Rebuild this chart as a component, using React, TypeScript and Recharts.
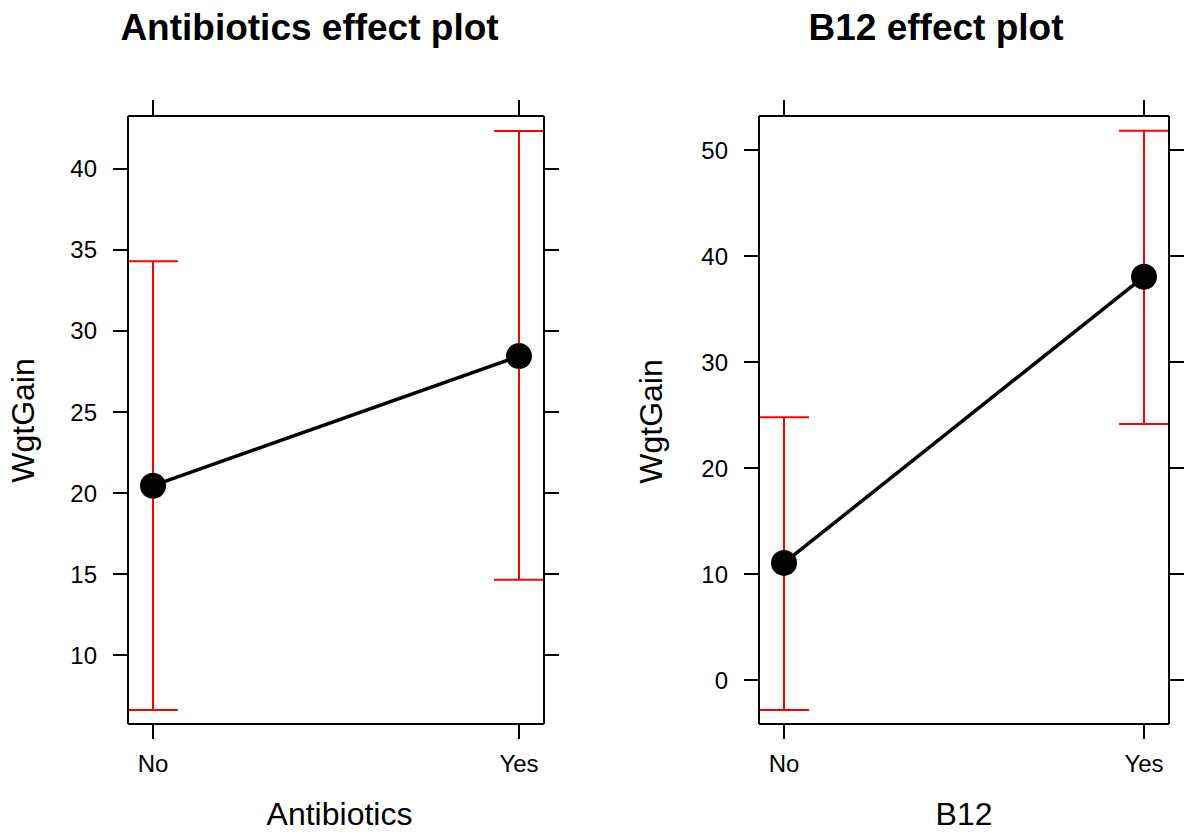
import React from 'react';
import { LineChart, Line, XAxis, YAxis, ErrorBar } from 'recharts';

const categories = ['No', 'Yes'];

const antibioticsFit = [20.45, 28.45];
const antibioticsLower = [6.6, 14.65];
const antibioticsUpper = [34.3, 42.35];

const b12Fit = [11.05, 38.05];
const b12Lower = [-2.83, 24.15];
const b12Upper = [24.8, 51.82];

const antibioticsTicks = [10, 15, 20, 25, 30, 35, 40];
const b12Ticks = [0, 10, 20, 30, 40, 50];

const FONT = '"Liberation Sans", Arial, Helvetica, sans-serif';

type PanelProps = {
  left: number;
  width: number;
  rightAxisWidth: number;
  fit: number[];
  lower: number[];
  upper: number[];
  domain: [number, number];
  ticks: number[];
};

function Panel({ left, width, rightAxisWidth, fit, lower, upper, domain, ticks }: PanelProps) {
  const data = categories.map((c, i) => ({
    name: c,
    fit: fit[i],
    err: [fit[i] - lower[i], upper[i] - fit[i]],
  }));
  const lineStyle = { stroke: '#000', strokeWidth: 2 };
  const tickStyle = { fill: '#000', fontSize: 24, fontFamily: FONT };
  const blank = () => '';
  return (
    <div style={{ position: 'absolute', left, top: 0 }}>
      <LineChart
        width={width}
        height={832}
        data={data}
        margin={{ top: 0, right: 0, bottom: 0, left: 0 }}
        style={{ fontFamily: FONT }}
      >
        <XAxis
          xAxisId="bottom"
          dataKey="name"
          orientation="bottom"
          height={108}
          padding={{ left: 25, right: 25 }}
          tickSize={15}
          tickMargin={16}
          axisLine={lineStyle}
          tickLine={lineStyle}
          tick={tickStyle}
          interval={0}
        />
        <XAxis
          xAxisId="top"
          dataKey="name"
          orientation="top"
          height={116}
          padding={{ left: 25, right: 25 }}
          tickSize={16}
          axisLine={lineStyle}
          tickLine={lineStyle}
          tick={tickStyle}
          tickFormatter={blank}
          interval={0}
        />
        <YAxis
          yAxisId="left"
          orientation="left"
          type="number"
          width={128}
          domain={domain}
          ticks={ticks}
          allowDataOverflow
          tickSize={15}
          tickMargin={16}
          axisLine={lineStyle}
          tickLine={lineStyle}
          tick={tickStyle}
          interval={0}
        />
        <YAxis
          yAxisId="right"
          orientation="right"
          type="number"
          width={rightAxisWidth}
          domain={domain}
          ticks={ticks}
          allowDataOverflow
          tickSize={15}
          axisLine={lineStyle}
          tickLine={lineStyle}
          tick={tickStyle}
          tickFormatter={blank}
          interval={0}
        />
        <Line
          xAxisId="top"
          yAxisId="right"
          dataKey="fit"
          stroke="none"
          dot={false}
          activeDot={false}
          isAnimationActive={false}
        >
          <ErrorBar dataKey="err" direction="y" width={25} stroke="#FF0000" strokeWidth={2} isAnimationActive={false} />
        </Line>
        <Line
          xAxisId="bottom"
          yAxisId="left"
          dataKey="fit"
          stroke="#000"
          strokeWidth={3.5}
          dot={{ r: 13, fill: '#000', stroke: '#000', strokeWidth: 0 }}
          activeDot={false}
          isAnimationActive={false}
        />
      </LineChart>
    </div>
  );
}

export default function App() {
  return (
    <div style={{ position: 'absolute', left: 0, top: 0, width: 1185, height: 832, background: '#fff', fontFamily: FONT }}>
      <Panel
        left={0}
        width={592}
        rightAxisWidth={48}
        fit={antibioticsFit}
        lower={antibioticsLower}
        upper={antibioticsUpper}
        domain={[5.74, 43.27]}
        ticks={antibioticsTicks}
      />
      <Panel
        left={631}
        width={554}
        rightAxisWidth={16}
        fit={b12Fit}
        lower={b12Lower}
        upper={b12Upper}
        domain={[-4.15, 53.21]}
        ticks={b12Ticks}
      />
      <svg
        width={1185}
        height={832}
        style={{ position: 'absolute', left: 0, top: 0, pointerEvents: 'none' }}
      >
        <text x={309.5} y={40} textAnchor="middle" fontSize={37} fontWeight="bold" fontFamily={FONT} fill="#000">
          Antibiotics effect plot
        </text>
        <text x={936} y={40} textAnchor="middle" fontSize={37} fontWeight="bold" fontFamily={FONT} fill="#000">
          B12 effect plot
        </text>
        <text x={339.5} y={825} textAnchor="middle" fontSize={32} fontFamily={FONT} fill="#000">
          Antibiotics
        </text>
        <text x={964} y={825} textAnchor="middle" fontSize={32} fontFamily={FONT} fill="#000">
          B12
        </text>
        <text
          x={34}
          y={420.5}
          textAnchor="middle"
          fontSize={32}
          fontFamily={FONT}
          fill="#000"
          transform="rotate(-90 34 420.5)"
        >
          WgtGain
        </text>
        <text
          x={662}
          y={421.5}
          textAnchor="middle"
          fontSize={32}
          fontFamily={FONT}
          fill="#000"
          transform="rotate(-90 662 421.5)"
        >
          WgtGain
        </text>
      </svg>
    </div>
  );
}
